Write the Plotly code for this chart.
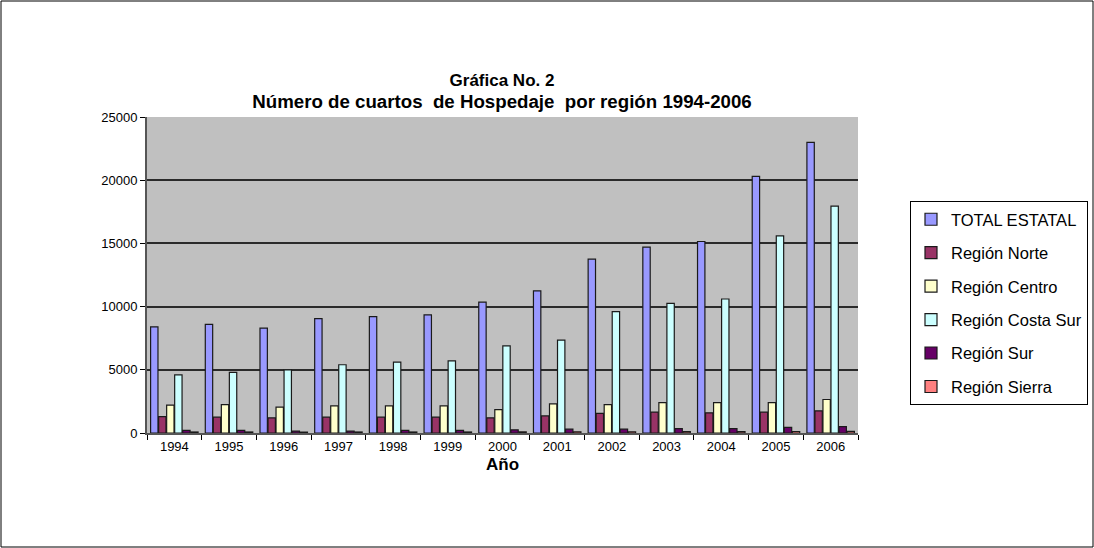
import plotly.graph_objects as go

years = ['1994', '1995', '1996', '1997', '1998', '1999', '2000',
         '2001', '2002', '2003', '2004', '2005', '2006']
total_estatal = [8400, 8600, 8300, 9050, 9200, 9350, 10350, 11250, 13750, 14700, 15150, 20300, 23000]
region_norte = [1300, 1250, 1200, 1250, 1250, 1250, 1200, 1350, 1550, 1650, 1600, 1650, 1750]
region_centro = [2200, 2250, 2050, 2150, 2150, 2150, 1850, 2300, 2250, 2400, 2400, 2400, 2650]
region_costa_sur = [4600, 4800, 5000, 5400, 5600, 5700, 6900, 7350, 9600, 10250, 10600, 15600, 17950]
region_sur = [200, 200, 150, 150, 200, 200, 250, 300, 300, 350, 350, 450, 500]
region_sierra = [80, 80, 70, 80, 80, 80, 90, 100, 100, 110, 110, 120, 130]

series = [
    ('TOTAL ESTATAL', total_estatal, '#9999FF'),
    ('Región Norte', region_norte, '#993366'),
    ('Región Centro', region_centro, '#FFFFCC'),
    ('Región Costa Sur', region_costa_sur, '#CCFFFF'),
    ('Región Sur', region_sur, '#660066'),
    ('Región Sierra', region_sierra, '#FF8080'),
]

fig = go.Figure()
for name, vals, color in series:
    fig.add_trace(go.Bar(
        x=years, y=vals, name=name, legendgroup=name,
        marker=dict(color=color, line=dict(color='#1a1a1a', width=1.2)),
    ))

# plot area: x 147..858, y 117..433 in a 1094x548 page
L, R, T, B = 147, 858, 117, 433
W, H = R - L, B - T

def px_x(p):
    return (p - L) / W

def px_y(p):
    return (B - p) / H

sp = '\u00a0'
title_txt = ('<b>Gráfica No. 2<br><span style="font-size:18.7px">Número de cuartos' + sp + ' de Hospedaje'
             + sp + ' por región 1994-2006</span></b>')

fig.update_layout(
    width=1094, height=548,
    margin=dict(l=L, r=1094 - R, t=T, b=548 - B, autoexpand=False),
    paper_bgcolor='white',
    plot_bgcolor='#C0C0C0',
    font=dict(family='Liberation Sans, Arial', size=13, color='black'),
    barmode='group', bargap=0.12, bargroupgap=0.08,
    title=dict(
        text=title_txt,
        x=px_x(502), xref='paper', xanchor='center',
        y=1 - 86 / 548, yref='container', yanchor='top',
        font=dict(size=17, color='black'),
    ),
    xaxis=dict(
        title=dict(text='<b>Año</b>', font=dict(size=17), standoff=6),
        ticks='outside', tickson='boundaries', ticklen=5, tickcolor='black',
        showline=True, linecolor='#555555', linewidth=2,
        showgrid=False, tickfont=dict(size=13),
    ),
    yaxis=dict(
        range=[0, 25000], dtick=5000, tickformat='d',
        ticks='outside', ticklen=5, tickcolor='black',
        showline=True, linecolor='#555555', linewidth=2,
        gridcolor='#2a2a2a', gridwidth=2, zeroline=False,
        tickfont=dict(size=13),
    ),
    legend=dict(
        x=px_x(910), y=px_y(201), xanchor='left', yanchor='top',
        bordercolor='black', borderwidth=1, bgcolor='white',
        font=dict(size=16.5), traceorder='grouped', tracegroupgap=9,
        itemwidth=30,
    ),
    shapes=[dict(
        type='rect', xref='paper', yref='paper',
        x0=px_x(1), x1=px_x(1093), y0=px_y(547), y1=px_y(1),
        line=dict(color='black', width=1),
    )],
)

fig.write_html('out.html', config={'displayModeBar': False},
               post_script="document.body.style.margin='0';")
